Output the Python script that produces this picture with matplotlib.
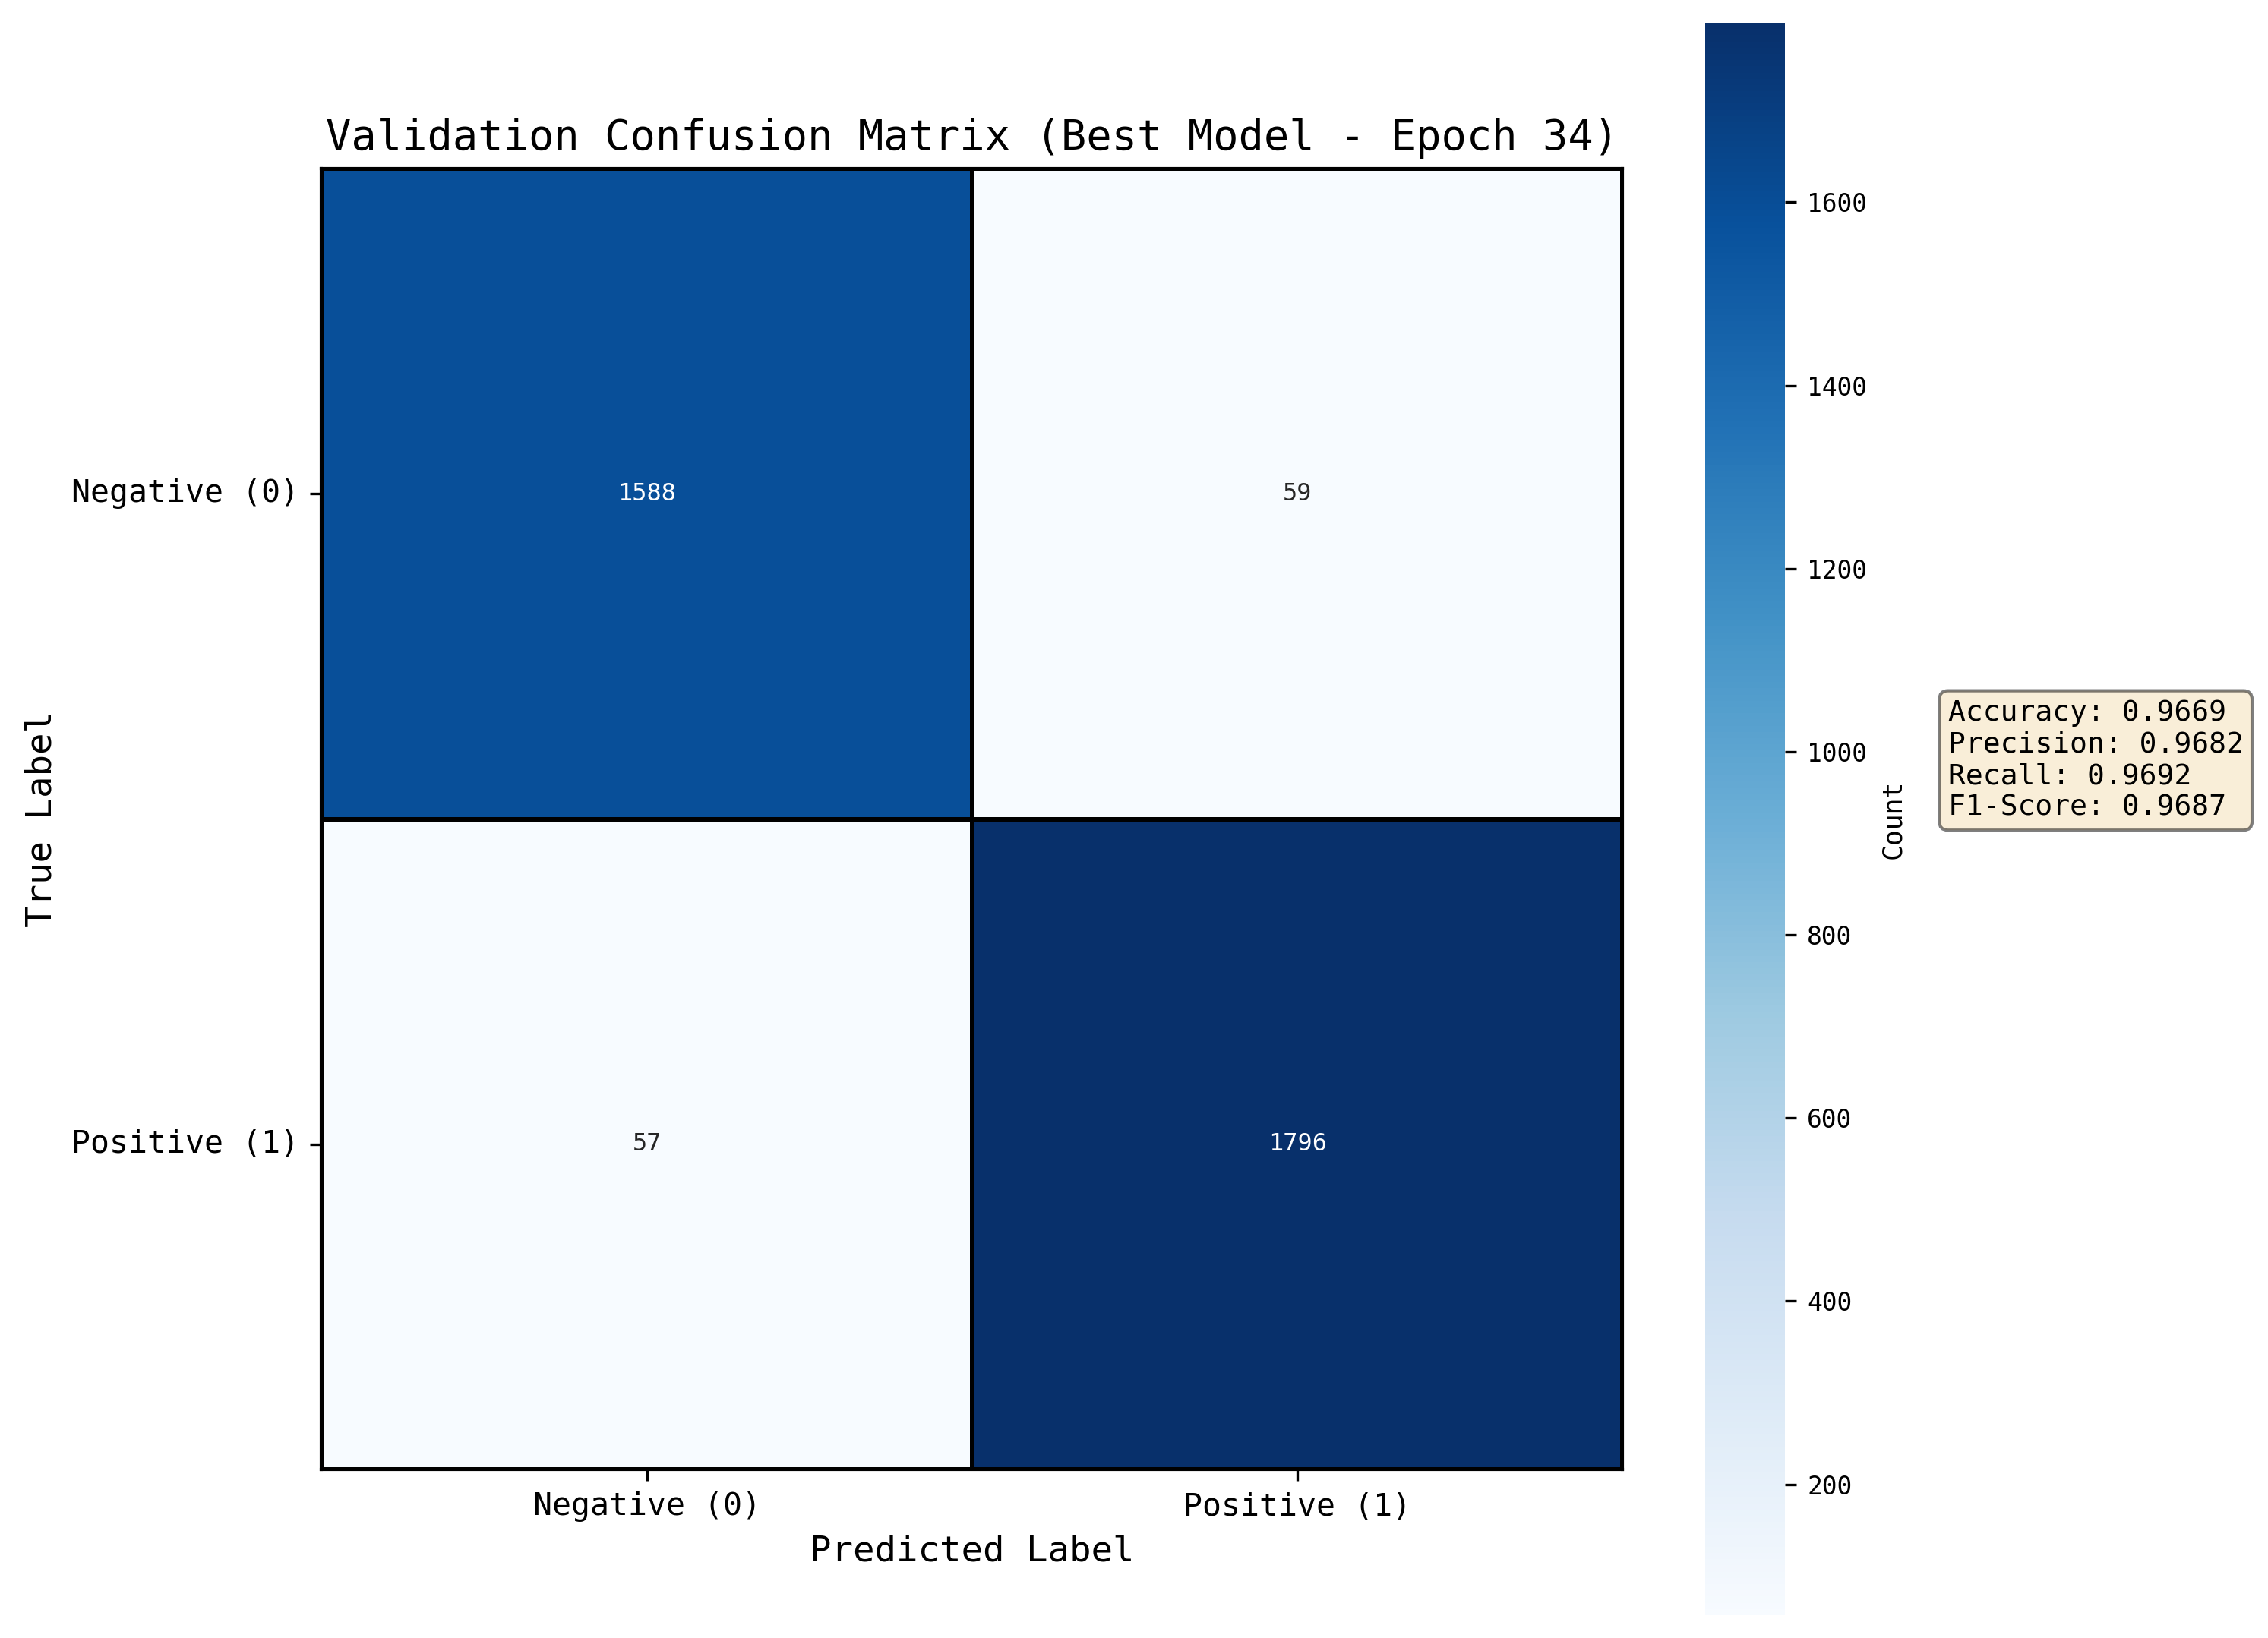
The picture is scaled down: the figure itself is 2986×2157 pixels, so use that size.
import numpy as np
import matplotlib
matplotlib.use('Agg')
import matplotlib.pyplot as plt
from matplotlib import font_manager
import seaborn as sns

# confusion matrix of the best epoch
class_names = ['Negative (0)', 'Positive (1)']
cm = np.array([[1588, 59],
               [57, 1796]])
metric_names = ['Accuracy', 'Precision', 'Recall', 'F1-Score']
metric_values = [0.9669, 0.9682, 0.9692, 0.9687]
best_epoch = 34

# half-width latin like SimHei if we have it, else plain mono (wider glyphs)
names = {f.name for f in font_manager.fontManager.ttflist}
if 'Noto Sans Mono CJK SC' in names:
    fam = ['Noto Sans Mono CJK SC', 'DejaVu Sans Mono']
    k = 1.0
else:
    fam = ['DejaVu Sans Mono']
    k = 0.5 / 0.602
plt.rcParams['font.family'] = fam

fig = plt.figure(figsize=(2986 / 300, 2157 / 300), dpi=300)
ax = fig.add_axes([0.14166, 0.10292, 0.57401, 0.79416])
cax = fig.add_axes([0.75184, 0.01391, 0.03516, 0.97219])

sns.heatmap(cm, annot=True, fmt='d', cmap='Blues', square=True,
            linewidths=1, linecolor='black',
            xticklabels=class_names, yticklabels=class_names,
            annot_kws={'fontsize': 9.2 * k},
            ax=ax, cbar_ax=cax, cbar_kws={'label': 'Count'})

for s in ax.spines.values():
    s.set_visible(True)
    s.set_color('black')
    s.set_linewidth(1)

ax.set_title(f'Validation Confusion Matrix (Best Model - Epoch {best_epoch})',
             fontsize=16 * k)
ax.set_xlabel('Predicted Label', fontsize=13.7 * k)
ax.set_ylabel('True Label', fontsize=13.7 * k)
ax.tick_params(axis='both', labelsize=12 * k)
plt.setp(ax.get_yticklabels(), rotation=0)
plt.setp(ax.get_xticklabels(), rotation=0)

cax.tick_params(labelsize=9.5 * k)
cax.yaxis.label.set_size(10 * k)

txt = '\n'.join(f'{n}: {v:.4f}' for n, v in zip(metric_names, metric_values))
ax.text(1.25, 0.545, txt, transform=ax.transAxes, fontsize=11 * k,
        verticalalignment='center', horizontalalignment='left',
        bbox=dict(boxstyle='round', facecolor='wheat', alpha=0.5))

fig.savefig('out.png', dpi=300)
